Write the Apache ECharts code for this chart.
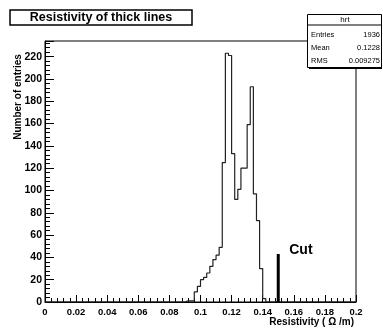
<!DOCTYPE html>
<html><head><meta charset="utf-8">
<script src="https://cdn.jsdelivr.net/npm/echarts@6/dist/echarts.min.js"></script>
<style>html,body{margin:0;padding:0;background:#fff}#c{width:383px;height:330px}</style>
</head><body><div id="c"></div>
<script>
// Histogram: bin lower edges (Resistivity, Ω/m), bin width 0.002
const binWidth = 0.002;
const binStarts = [0.090,0.092,0.094,0.096,0.098,0.100,0.102,0.104,0.106,0.108,0.110,0.112,0.114,0.116,0.118,0.120,0.122,0.124,0.126,0.128,0.130,0.132,0.134,0.136,0.138,0.140];
const binCounts = [1,1,1,9,14,20,22,26,32,38,42,49,125,223,221,133,92,101,120,120,159,193,97,73,30,3];
const xTicks = [0,0.02,0.04,0.06,0.08,0.1,0.12,0.14,0.16,0.18,0.2];
const yTicks = [0,20,40,60,80,100,120,140,160,180,200,220];
const cutX = 0.15, cutHeight = 43;
const statsNames = ['Entries','Mean','RMS'];
const statsValues = ['1936','0.1228','0.009275'];
const histName = 'hrt';

const xMin = 0, xMax = 0.2, yMin = 0, yMax = 234;

// Build step outline from bins
const pts = [[xMin,0]];
for (let i = 0; i < binStarts.length; i++) {
  const a = binStarts[i], b = a + binWidth;
  const prev = pts[pts.length-1];
  pts.push([a, prev[1]]);
  pts.push([a, binCounts[i]]);
  pts.push([b, binCounts[i]]);
}
const lastEdge = binStarts[binStarts.length-1] + binWidth;
pts.push([lastEdge, 0]);
pts.push([xMax, 0]);

const F = 'Liberation Sans, Arial, Helvetica, sans-serif';
const chart = echarts.init(document.getElementById('c'), null, {renderer:'canvas'});
const fmt = v => { const r = Math.round(v*1000)/1000; return xTicks.some(t=>Math.abs(t-r)<1e-9) ? String(r) : ''; };
chart.setOption({
  animation: false,
  backgroundColor: '#fff',
  grid: {left: 45, right: 27, top: 41, bottom: 28, show: true, borderColor: '#000', borderWidth: 1},
  xAxis: {
    type: 'value', min: xMin, max: xMax, interval: 0.02,
    axisLine: {lineStyle: {color: '#000', width: 1}},
    axisTick: {inside: true, length: 7, lineStyle: {color: '#000'}},
    minorTick: {show: true, splitNumber: 5, length: 4, lineStyle: {color: '#000'}},
    splitLine: {show: false},
    axisLabel: {formatter: fmt, color: '#000', fontFamily: F, fontWeight: 'bold', fontSize: 9.5, margin: 5}
  },
  yAxis: {
    type: 'value', min: yMin, max: yMax, interval: 20,
    axisLine: {lineStyle: {color: '#000', width: 1}},
    axisTick: {inside: true, length: 9, lineStyle: {color: '#000'}},
    minorTick: {show: true, splitNumber: 5, length: 5, lineStyle: {color: '#000'}},
    splitLine: {show: false},
    axisLabel: {showMaxLabel: false, formatter: v => yTicks.includes(v) ? String(v) : '', color: '#000', fontFamily: F, fontWeight: 'bold', fontSize: 10.5, margin: 3}
  },
  series: [
    {type: 'line', data: pts, symbol: 'none', lineStyle: {color: '#222', width: 1.2}, z: 3},
    {type: 'line', data: [[cutX, 0], [cutX, cutHeight]], symbol: 'none', lineStyle: {color: '#000', width: 3}, z: 4,
      label: {show: false},
      markPoint: {symbol: 'rect', symbolSize: 0, data: [{coord: [cutX, cutHeight], value: 'Cut'}],
        label: {show: true, formatter: 'Cut', position: 'right', offset: [6, -4], color: '#000', fontFamily: F, fontWeight: 'bold', fontSize: 14}}}
  ],
  graphic: [
    {type: 'rect', shape: {x: 10, y: 10, width: 182, height: 15}, style: {fill: '#fff', stroke: '#000', lineWidth: 1.5}, z: 10},
    {type: 'text', x: 101, y: 17.5, style: {text: 'Resistivity of thick lines', font: 'bold 12.5px ' + F, fill: '#000', textAlign: 'center', textVerticalAlign: 'middle'}, z: 11},
    // stats box
    {type: 'rect', shape: {x: 309, y: 16, width: 73, height: 53}, style: {fill: '#000'}, z: 10},
    {type: 'rect', shape: {x: 307.5, y: 14.5, width: 74, height: 53}, style: {fill: '#fff', stroke: '#000', lineWidth: 1}, z: 11},
    {type: 'line', shape: {x1: 307.5, y1: 25, x2: 381.5, y2: 25}, style: {stroke: '#000', lineWidth: 1}, z: 12},
    {type: 'text', x: 345, y: 20, style: {text: histName, font: '8px ' + F, fill: '#000', textAlign: 'center', textVerticalAlign: 'middle'}, z: 12},
    ...statsNames.map((n, i) => ({type: 'text', x: 311, y: 34.5 + i*13.3, style: {text: n, font: '7.5px ' + F, fill: '#000', textAlign: 'left', textVerticalAlign: 'middle'}, z: 12})),
    ...statsValues.map((v, i) => ({type: 'text', x: 380, y: 34.5 + i*13.3, style: {text: v, font: '7.5px ' + F, fill: '#000', textAlign: 'right', textVerticalAlign: 'middle'}, z: 12})),
    // axis titles
    {type: 'text', x: 18, y: 97, rotation: Math.PI/2, style: {text: 'Number of entries', font: 'bold 10px ' + F, fill: '#000', textAlign: 'center', textVerticalAlign: 'middle'}, z: 12},
    {type: 'text', x: 354, y: 322, style: {text: 'Resistivity ( Ω /m)', font: 'bold 10px ' + F, fill: '#000', textAlign: 'right', textVerticalAlign: 'middle'}, z: 12}
  ]
});
</script></body></html>
